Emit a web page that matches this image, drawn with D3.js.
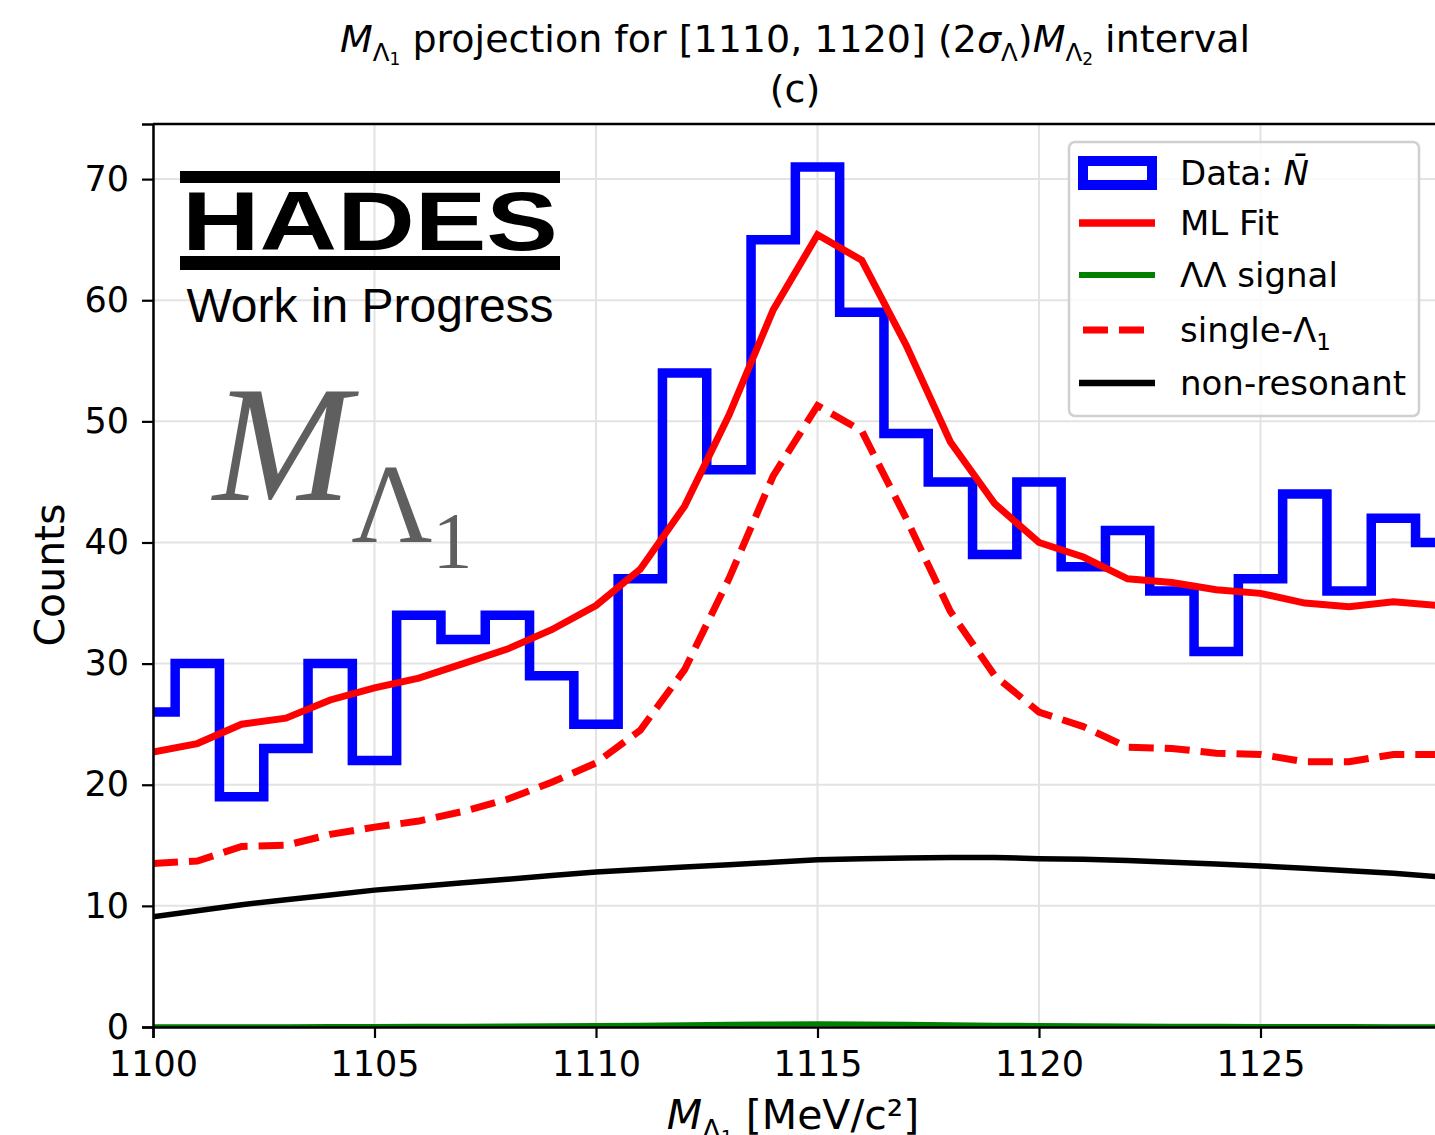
<!DOCTYPE html>
<html>
<head>
<meta charset="utf-8">
<script src="https://cdn.jsdelivr.net/npm/d3@7"></script>
<style>
  body { margin: 0; background: #fff; }
  text { font-family: "DejaVu Sans", sans-serif; }
</style>
</head>
<body>
<div id="container"></div>
<script>
// histogram bins (width 1 MeV, centred on integers)
const binCenters = d3.range(1100, 1130);
const dataCounts = [26, 30, 19, 23, 30, 22, 34, 32, 34, 29, 25, 37, 54, 46, 65, 71, 59, 49, 45, 39, 45, 38, 41, 36, 31, 37, 44, 36, 42, 40];

// fit components evaluated at integer masses
const fitX = d3.range(1100, 1131);
const mlFit = [22.7, 23.4, 25.0, 25.5, 27.0, 28.0, 28.8, 30.0, 31.2, 32.8, 34.8, 37.8, 43.0, 50.5, 59.2, 65.4, 63.3, 56.3, 48.3, 43.2, 40.0, 38.8, 37.0, 36.7, 36.1, 35.8, 35.0, 34.7, 35.1, 34.8, 34.6];
const singleL1 = [13.5, 13.7, 14.9, 15.0, 15.9, 16.5, 17.0, 17.8, 18.8, 20.2, 21.8, 24.5, 29.5, 37.0, 45.5, 51.3, 49.2, 42.0, 34.3, 29.0, 26.0, 24.8, 23.1, 23.0, 22.6, 22.5, 21.9, 21.9, 22.5, 22.5, 22.4];
const nonRes = [9.1, 9.6, 10.1, 10.5, 10.9, 11.3, 11.6, 11.9, 12.2, 12.5, 12.8, 13.0, 13.2, 13.4, 13.6, 13.8, 13.9, 13.95, 14.0, 14.0, 13.9, 13.85, 13.75, 13.6, 13.45, 13.3, 13.1, 12.9, 12.7, 12.4, 12.1];
const llSignal = [0.02, 0.02, 0.03, 0.03, 0.04, 0.05, 0.06, 0.07, 0.08, 0.1, 0.12, 0.15, 0.18, 0.22, 0.25, 0.27, 0.25, 0.22, 0.18, 0.15, 0.12, 0.1, 0.08, 0.07, 0.06, 0.05, 0.04, 0.04, 0.03, 0.03, 0.02];

const xTicks = [1100, 1105, 1110, 1115, 1120, 1125];
const yTicks = [0, 10, 20, 30, 40, 50, 60, 70];

const W = 1435, H = 1135;
const mLeft = 153, mRight = 1482, mTop = 124, mBottom = 1027;

const svg = d3.select("#container").append("svg")
  .attr("width", W).attr("height", H);

const x = d3.scaleLinear().domain([1100, 1130]).range([mLeft, mRight]);
const y = d3.scaleLinear().domain([0, 74.55]).range([mBottom, mTop]);

svg.append("defs").append("clipPath").attr("id", "plotclip")
  .append("rect").attr("x", mLeft).attr("y", mTop)
  .attr("width", mRight - mLeft).attr("height", mBottom - mTop);

// grid
const grid = svg.append("g");
grid.selectAll(".gx").data(xTicks).join("line")
  .attr("x1", d => x(d)).attr("x2", d => x(d))
  .attr("y1", mTop).attr("y2", mBottom)
  .attr("stroke", "#e3e3e3").attr("stroke-width", 2);
grid.selectAll(".gy").data(yTicks).join("line")
  .attr("x1", mLeft).attr("x2", mRight)
  .attr("y1", d => y(d)).attr("y2", d => y(d))
  .attr("stroke", "#e3e3e3").attr("stroke-width", 2);

const plot = svg.append("g").attr("clip-path", "url(#plotclip)");

// histogram step outline
const stepPts = [[binCenters[0] - 0.5, 0]];
dataCounts.forEach((c, i) => {
  stepPts.push([binCenters[i] - 0.5, c]);
  stepPts.push([binCenters[i] + 0.5, c]);
});
stepPts.push([binCenters[binCenters.length - 1] + 0.5, 0]);

const line = d3.line().x(d => x(d[0])).y(d => y(d[1]));

plot.append("path").attr("d", line(stepPts))
  .attr("fill", "none").attr("stroke", "#0000ff").attr("stroke-width", 9.5)
  .attr("stroke-linejoin", "miter");

const curve = vals => line(fitX.map((v, i) => [v, vals[i]]));

plot.append("path").attr("d", curve(llSignal))
  .attr("fill", "none").attr("stroke", "#008000").attr("stroke-width", 5);
plot.append("path").attr("d", curve(nonRes))
  .attr("fill", "none").attr("stroke", "#000").attr("stroke-width", 5.5);
plot.append("path").attr("d", curve(singleL1))
  .attr("fill", "none").attr("stroke", "#ff0000").attr("stroke-width", 7)
  .attr("stroke-dasharray", "25,11");
plot.append("path").attr("d", curve(mlFit))
  .attr("fill", "none").attr("stroke", "#ff0000").attr("stroke-width", 7);

// axes
const xAxis = svg.append("g").attr("transform", `translate(0,${mBottom})`)
  .call(d3.axisBottom(x).tickValues(xTicks).tickSize(11).tickPadding(13).tickFormat(d3.format("d")));
const yAxis = svg.append("g").attr("transform", `translate(${mLeft},0)`)
  .call(d3.axisLeft(y).tickValues(yTicks).tickSize(11).tickPadding(13).tickFormat(d3.format("d")));
[xAxis, yAxis].forEach(a => {
  a.select(".domain").attr("stroke-width", 2.5);
  a.selectAll(".tick line").attr("stroke-width", 2.2);
  a.selectAll("text").style("font-size", "35px").attr("fill", "#000")
    .style("font-family", "DejaVu Sans");
});
svg.append("line").attr("x1", mLeft).attr("x2", mRight).attr("y1", mTop).attr("y2", mTop)
  .attr("stroke", "#000").attr("stroke-width", 2.5);

// titles
const t1 = svg.append("text").attr("x", 795).attr("y", 52).attr("text-anchor", "middle")
  .style("font-size", "38px");
t1.append("tspan").attr("font-style", "italic").text("M");
t1.append("tspan").attr("dy", 9).style("font-size", "24.5px").text("Λ");
t1.append("tspan").attr("dy", 4).style("font-size", "17px").text("1");
t1.append("tspan").attr("dy", -13).text(" projection for [1110, 1120] (2");
t1.append("tspan").attr("font-style", "italic").text("σ");
t1.append("tspan").attr("dy", 9).style("font-size", "24.5px").text("Λ");
t1.append("tspan").attr("dy", -9).text(")");
t1.append("tspan").attr("font-style", "italic").text("M");
t1.append("tspan").attr("dy", 9).style("font-size", "24.5px").text("Λ");
t1.append("tspan").attr("dy", 4).style("font-size", "17px").text("2");
t1.append("tspan").attr("dy", -13).text(" interval");
svg.append("text").attr("x", 795).attr("y", 102).attr("text-anchor", "middle")
  .style("font-size", "38px").text("(c)");

const xl = svg.append("text").attr("x", 793).attr("y", 1129).attr("text-anchor", "middle")
  .style("font-size", "41px");
xl.append("tspan").attr("font-style", "italic").text("M");
xl.append("tspan").attr("dy", 10).style("font-size", "27px").text("Λ");
xl.append("tspan").attr("dy", 5).style("font-size", "19px").text("1");
xl.append("tspan").attr("dy", -15).text(" [MeV/c²]");

svg.append("text").attr("transform", "translate(64,575) rotate(-90)")
  .attr("text-anchor", "middle").style("font-size", "41px").text("Counts");

// HADES logo
const logo = svg.append("g");
logo.append("rect").attr("x", 180).attr("y", 171).attr("width", 380).attr("height", 12).attr("fill", "#000");
logo.append("rect").attr("x", 180).attr("y", 256).attr("width", 380).attr("height", 14).attr("fill", "#000");
logo.append("text").attr("x", 370).attr("y", 250).attr("text-anchor", "middle")
  .attr("textLength", 376).attr("lengthAdjust", "spacingAndGlyphs")
  .style("font-family", "Liberation Sans").style("font-weight", "bold")
  .style("font-size", "84px").attr("fill", "#000").text("HADES");
svg.append("text").attr("x", 370).attr("y", 322).attr("text-anchor", "middle")
  .style("font-family", "Liberation Sans").style("font-size", "48px").text("Work in Progress");

// big M_Λ1 label
const big = svg.append("text").attr("x", 213).attr("y", 500).attr("fill", "#5f5f5f")
  .style("font-family", "Liberation Serif");
big.append("tspan").attr("font-style", "italic").style("font-size", "166px").text("M");
big.append("tspan").attr("dx", 0).attr("dy", 42).style("font-size", "112px").text("Λ");
big.append("tspan").attr("dy", 26).style("font-size", "80px").text("1");

// legend
const lg = svg.append("g");
lg.append("rect").attr("x", 1069).attr("y", 142).attr("width", 350).attr("height", 274)
  .attr("rx", 6).attr("fill", "#fff").attr("fill-opacity", 0.8)
  .attr("stroke", "#d0d0d0").attr("stroke-width", 2.5);
const items = [
  { label: "Data: ", kind: "box" },
  { label: "ML Fit", kind: "line", color: "#ff0000", w: 7.5 },
  { label: "ΛΛ signal", kind: "line", color: "#008000", w: 6 },
  { label: "single-Λ", kind: "dash", color: "#ff0000", w: 7 },
  { label: "non-resonant", kind: "line", color: "#000", w: 6.5 }
];
const rowY = [173, 223, 275, 330, 383];
items.forEach((it, i) => {
  const cy = rowY[i];
  if (it.kind === "box") {
    lg.append("rect").attr("x", 1083).attr("y", cy - 12).attr("width", 69).attr("height", 24)
      .attr("fill", "none").attr("stroke", "#0000ff").attr("stroke-width", 10);
  } else {
    lg.append("line").attr("x1", it.kind === "dash" ? 1083 : 1079).attr("x2", 1155).attr("y1", cy).attr("y2", cy)
      .attr("stroke", it.color).attr("stroke-width", it.w)
      .attr("stroke-dasharray", it.kind === "dash" ? "25,11" : null);
  }
  const tx = lg.append("text").attr("x", 1180).attr("y", cy + 12).style("font-size", "34px").text(it.label);
  if (i === 0) tx.append("tspan").attr("font-style", "italic").text("N̄");
  if (i === 3) tx.append("tspan").attr("dy", 8).style("font-size", "23px").text("1");
});
</script>
</body>
</html>
